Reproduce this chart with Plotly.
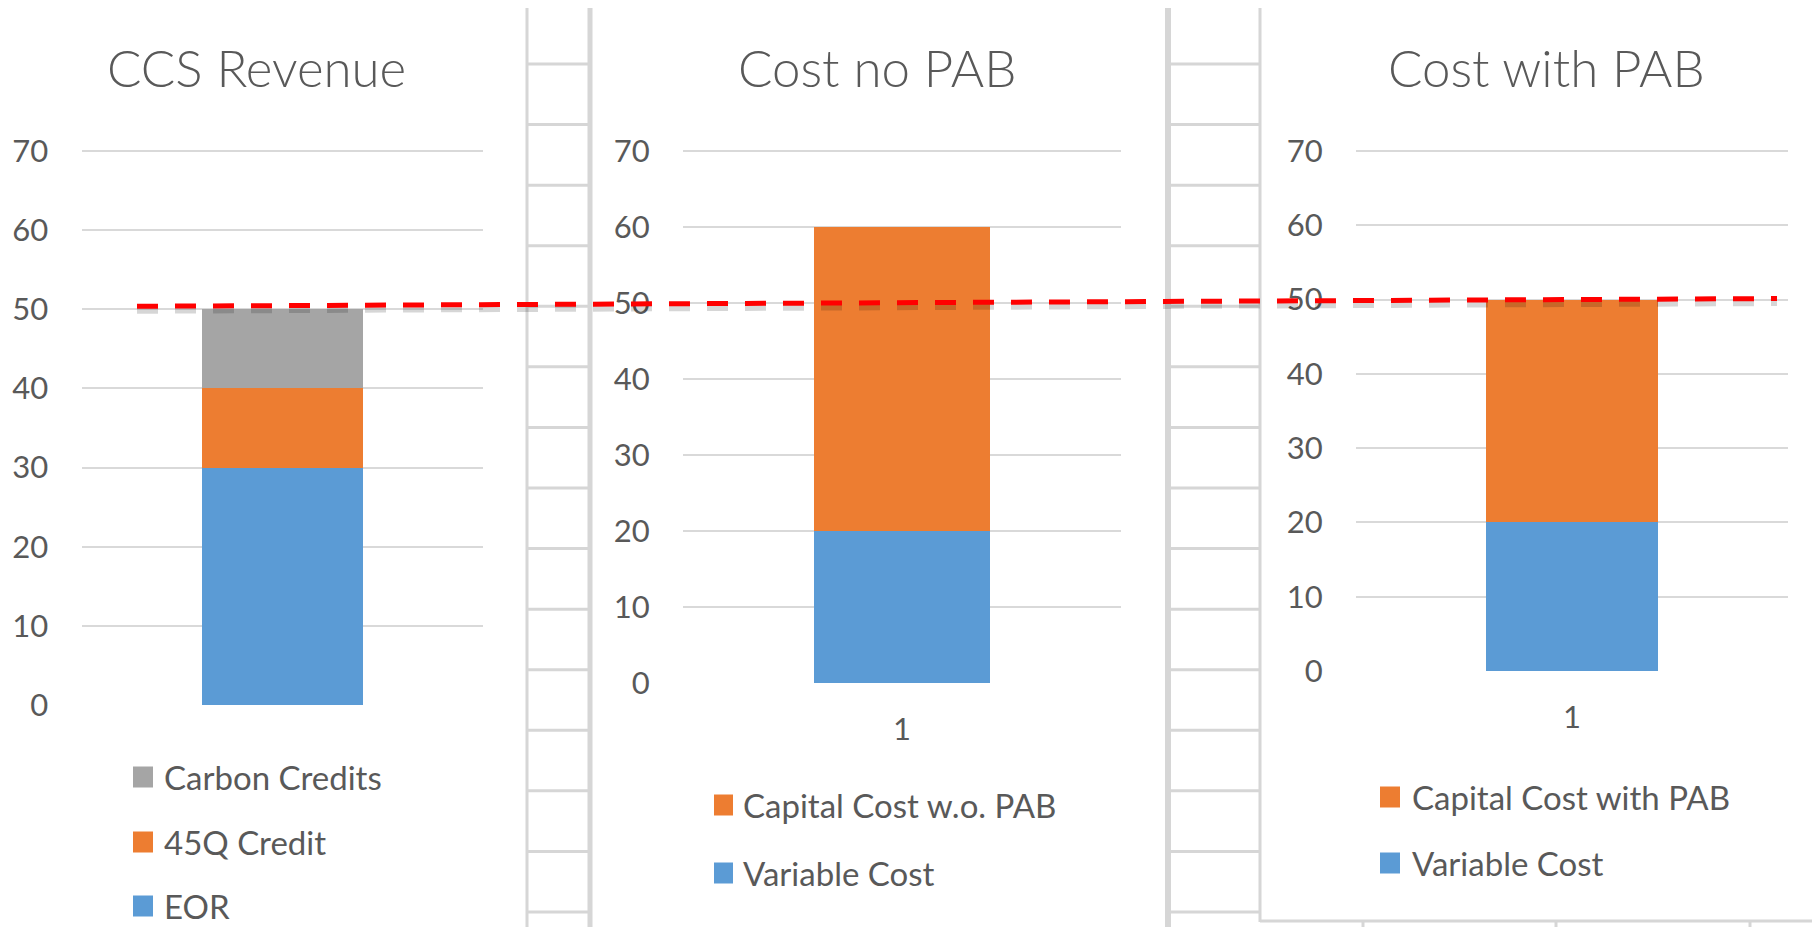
import plotly.graph_objects as go

# ---- data -------------------------------------------------------------
categories = ["1"]

revenue_names = ["EOR", "45Q Credit", "Carbon Credits"]
revenue_values = [30, 10, 10]

no_pab_names = ["Variable Cost", "Capital Cost w.o. PAB"]
no_pab_values = [20, 40]

with_pab_names = ["Variable Cost", "Capital Cost with PAB"]
with_pab_values = [20, 30]

chart_titles = ["CCS Revenue", "Cost no PAB", "Cost with PAB"]
y_ticks = [0, 10, 20, 30, 40, 50, 60, 70]
y_max = 70
threshold = 50

# ---- styling ----------------------------------------------------------
W, H = 1812, 927
BLUE, ORANGE, GREY = "#5B9BD5", "#ED7D31", "#A5A5A5"
TEXT = "#595959"
GRID = "#D9D9D9"
SHEET = "#D6D6D6"
FONT = "Lato"

colors_rev = [BLUE, ORANGE, GREY]
colors_cost = [BLUE, ORANGE]


def px_x(v):
    return v / W


def px_y(v):
    return 1 - v / H


# plot-area boxes in pixels: (left, right, top of 70, bottom at 0)
boxes = [
    (81.5, 483, 151, 705),
    (683, 1121, 151, 683),
    (1356, 1788, 151, 671),
]
title_x = [256, 877, 1546]
title_y = 68
PAD = 0.15  # a little headroom so the top gridline is kept

fig = go.Figure()

panels = [
    (revenue_names, revenue_values, colors_rev),
    (no_pab_names, no_pab_values, colors_cost),
    (with_pab_names, with_pab_values, colors_cost),
]

for i, (names, values, cols) in enumerate(panels):
    ax = "" if i == 0 else str(i + 1)
    for name, val, col in zip(names, values, cols):
        fig.add_trace(go.Bar(
            x=categories, y=[val], name=name,
            marker=dict(color=col, line=dict(width=0)),
            width=0.4, showlegend=False,
            xaxis="x" + ax, yaxis="y" + ax,
        ))

layout = dict(
    width=W, height=H, autosize=False,
    margin=dict(l=0, r=0, t=0, b=0, pad=0, autoexpand=False),
    paper_bgcolor="white", plot_bgcolor="rgba(0,0,0,0)",
    barmode="stack",
    font=dict(family=FONT, color=TEXT),
    showlegend=False,
)

for i, (l, r, t, b) in enumerate(boxes):
    ax = "" if i == 0 else str(i + 1)
    unit = (b - t) / y_max
    layout["xaxis" + ax] = dict(
        domain=[px_x(l), px_x(r)],
        anchor="y" + ax,
        type="category",
        range=[-0.5, 0.5],
        showgrid=False, zeroline=False, showline=False,
        showticklabels=(i != 0),
        ticks="outside", ticklen=19, tickcolor="rgba(0,0,0,0)",
        tickfont=dict(family=FONT, size=31, color=TEXT),
        automargin=False, fixedrange=True,
    )
    layout["yaxis" + ax] = dict(
        domain=[px_y(b), px_y(t - PAD * unit)],
        anchor="x" + ax,
        range=[0, y_max + PAD],
        tickvals=y_ticks,
        showgrid=True, gridcolor=GRID, gridwidth=2,
        zeroline=False, showline=False,
        ticks="outside", ticklen=26, tickcolor="rgba(0,0,0,0)",
        tickfont=dict(family=FONT, size=31, color=TEXT),
        automargin=False, fixedrange=True,
    )

fig.update_layout(**layout)

# ---- titles -----------------------------------------------------------
for i, txt in enumerate(chart_titles):
    fig.add_annotation(
        x=px_x(title_x[i]), y=px_y(title_y), xref="paper", yref="paper",
        text=txt, showarrow=False, xanchor="center", yanchor="middle",
        font=dict(family=FONT, size=51, color=TEXT, weight=300),
    )

# ---- legends (key squares + labels, top series first) ------------------
legend_specs = [
    (revenue_names, colors_rev, 133, 20, 162, [777, 842, 906]),
    (no_pab_names, colors_cost, 714, 19, 741, [805, 873]),
    (with_pab_names, colors_cost, 1380, 20, 1410, [797, 863]),
]
for names, cols, kx, kw, tx, rows in legend_specs:
    for name, col, ry in zip(reversed(names), reversed(cols), rows):
        fig.add_shape(
            type="rect", xref="paper", yref="paper",
            x0=px_x(kx), x1=px_x(kx + kw),
            y0=px_y(ry - 10.5), y1=px_y(ry + 10.5),
            fillcolor=col, line=dict(width=0),
        )
        fig.add_annotation(
            x=px_x(tx), y=px_y(ry), xref="paper", yref="paper",
            text=name, showarrow=False, xanchor="left", yanchor="middle",
            font=dict(family=FONT, size=33, color=TEXT),
        )

# ---- worksheet grid behind the charts ---------------------------------
def vline(x, y0, y1, w):
    fig.add_shape(type="line", xref="paper", yref="paper", layer="below",
                  x0=px_x(x), x1=px_x(x), y0=px_y(y0), y1=px_y(y1),
                  line=dict(color=SHEET, width=w))


def hline(y, x0, x1, w):
    fig.add_shape(type="line", xref="paper", yref="paper", layer="below",
                  x0=px_x(x0), x1=px_x(x1), y0=px_y(y), y1=px_y(y),
                  line=dict(color=SHEET, width=w))


row_lines = [64 + 60.57 * k for k in range(15)]
for ry in row_lines:
    hline(ry, 527, 590, 3)
    hline(ry, 1168, 1260, 3)

vline(527, 8, H, 3)
vline(590, 8, H, 5)
vline(1168, 8, H, 6)
vline(1260, 8, 922, 3)
hline(921, 1260, W, 3)
for cx in [1363, 1556, 1750]:
    vline(cx, 921, H, 3)

# ---- threshold line at the 50 level across the three charts -----------
def value_to_px(box, v):
    l, r, t, b = box
    return b - (b - t) * v / y_max


y_start = value_to_px(boxes[0], threshold) - 3
y_end = value_to_px(boxes[2], threshold) - 1
x_start, x_end = 137, 1777

fig.add_shape(type="line", xref="paper", yref="paper",
              x0=px_x(x_start), x1=px_x(x_end),
              y0=px_y(y_start + 4), y1=px_y(y_end + 4),
              line=dict(color="rgba(0,0,0,0.16)", width=7, dash="21px,17px"))
fig.add_shape(type="line", xref="paper", yref="paper",
              x0=px_x(x_start), x1=px_x(x_end),
              y0=px_y(y_start), y1=px_y(y_end),
              line=dict(color="#FF0000", width=5, dash="21px,17px"))

fig.write_html("out.html", config={"displayModeBar": False})
